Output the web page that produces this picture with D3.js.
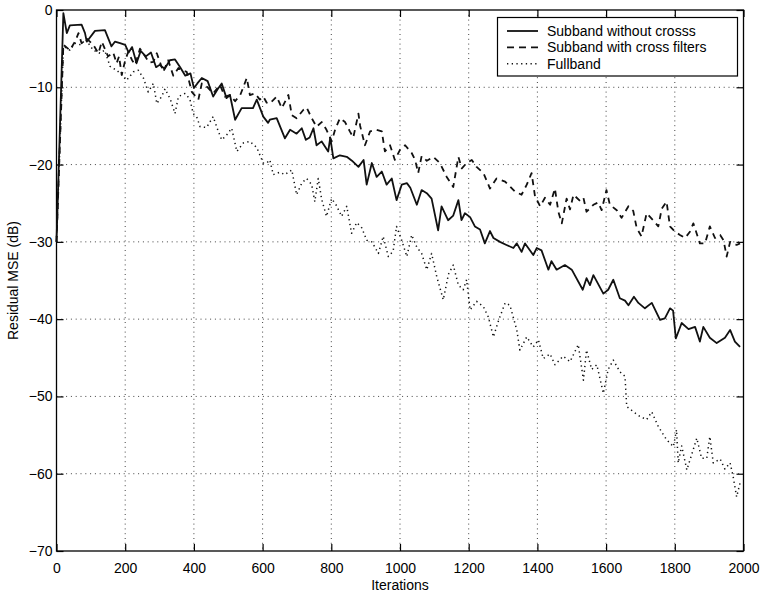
<!DOCTYPE html>
<html>
<head>
<meta charset="utf-8">
<script src="https://cdn.jsdelivr.net/npm/d3@7"></script>
<style>
  body { margin: 0; background: #fff; }
  svg { font-family: "Liberation Sans", Arial, Helvetica, sans-serif; }
  .grid line { stroke: #444; stroke-width: 1; stroke-dasharray: 1,3.8; }
  .tick text { font-size: 14px; fill: #000; }
</style>
</head>
<body>
<svg id="canvas" width="763" height="594"></svg>
<script>

var xTicks = [0, 200, 400, 600, 800, 1000, 1200, 1400, 1600, 1800, 2000];
var yTicks = [0, -10, -20, -30, -40, -50, -60, -70];

var seriesNames = ["Subband without crosss", "Subband with cross filters", "Fullband"];

// Subband without cross filters (solid)
var solidIter = [0, 20, 30, 39, 73, 83, 88, 112, 141, 160, 170, 185, 200, 210, 220, 233, 245, 260, 275, 290,
    300, 315, 330, 345, 360, 375, 390, 400, 410, 423, 440, 456, 470, 481, 495, 505, 520, 539, 572, 583,
    602, 616, 621, 641, 665, 680, 699, 714, 726, 737, 748, 757, 772, 791, 797, 806, 825, 845, 860, 879,
    894, 903, 918, 932, 947, 961, 976, 990, 1005, 1020, 1030, 1049, 1063, 1078, 1092, 1111, 1121, 1140, 1155, 1170,
    1179, 1189, 1204, 1218, 1233, 1247, 1262, 1272, 1291, 1310, 1330, 1340, 1354, 1364, 1388, 1398, 1412, 1432, 1441, 1456,
    1480, 1500, 1532, 1543, 1553, 1563, 1592, 1606, 1621, 1640, 1655, 1665, 1681, 1694, 1713, 1733, 1757, 1771, 1786, 1795,
    1803, 1820, 1840, 1859, 1873, 1883, 1902, 1922, 1946, 1961, 1975, 1990];
var solidMSE = [-30, -0.4, -3, -2, -1.9, -3, -4.1, -2.7, -2.6, -4.7, -4.1, -4.3, -4.5, -5.5, -4.8, -6.9, -5.3, -6, -5.5, -7.4,
    -7.1, -7.6, -6.5, -6.4, -7.4, -8.5, -8.2, -10.1, -9.5, -8.8, -9.2, -11.2, -10.2, -9.5, -11.4, -11, -14.2, -12.7, -12.7, -11.6,
    -13.8, -14.6, -14.2, -14, -16.6, -15.5, -16, -15.3, -16.8, -16.5, -15.3, -17.5, -17, -18.3, -16.5, -19.2, -18.8, -19, -19.5, -20.3,
    -19.4, -22.6, -19.8, -21.6, -20.9, -22.6, -21.8, -24.6, -22.6, -22.4, -23, -25.2, -23.3, -23.7, -24.4, -28.5, -25.4, -27.2, -26.6, -24.6,
    -27.2, -26.3, -26.8, -28, -28.4, -30.2, -28.6, -29.5, -30, -30.4, -30.8, -30.2, -31.3, -30.2, -31.7, -30.8, -31.1, -33.6, -32.5, -33.6,
    -33, -33.6, -36.2, -34.7, -35.6, -34.3, -36.7, -36.2, -34.9, -37.3, -37.6, -38.2, -37.1, -37.9, -38.6, -37.9, -40.1, -39.9, -38.6, -38.9,
    -42.5, -40.5, -41.3, -41, -42.9, -41, -42.4, -43.1, -42.4, -41.4, -42.9, -43.6];

// Subband with cross filters (dashed)
var dashIter = [0, 20, 39, 55, 64, 73, 88, 107, 122, 132, 150, 165, 175, 182, 190, 200, 209, 220, 229, 243,
    255, 270, 282, 292, 311, 325, 340, 355, 365, 379, 394, 413, 423, 440, 456, 476, 490, 505, 520, 535,
    554, 563, 578, 592, 602, 612, 621, 641, 656, 675, 685, 699, 719, 728, 743, 757, 772, 786, 801, 811,
    825, 840, 854, 864, 879, 884, 898, 913, 932, 947, 956, 971, 985, 1000, 1015, 1034, 1044, 1053, 1063, 1078,
    1097, 1116, 1136, 1155, 1170, 1180, 1194, 1209, 1223, 1243, 1262, 1281, 1306, 1335, 1354, 1369, 1383, 1393, 1408, 1422,
    1437, 1451, 1461, 1471, 1485, 1495, 1505, 1524, 1534, 1543, 1563, 1577, 1587, 1601, 1611, 1631, 1645, 1665, 1679, 1689,
    1703, 1718, 1737, 1752, 1762, 1776, 1786, 1801, 1815, 1830, 1844, 1854, 1873, 1888, 1902, 1917, 1932, 1942, 1951, 1961,
    1980, 1990];
var dashMSE = [-30, -4.5, -5.2, -4, -3, -4.3, -3.7, -4.5, -5.6, -4.1, -6, -5.5, -6.9, -6, -8.4, -6.5, -5.4, -6.5, -7.1, -5,
    -5.8, -6.8, -6.7, -5.6, -8, -6.5, -8.5, -7.5, -7.8, -8, -10.6, -11.6, -9.5, -10, -10.8, -9.7, -11.2, -11, -11.8, -11,
    -8.8, -11, -10.8, -11.6, -11.2, -12, -12.1, -11.2, -12.7, -11, -13.6, -14, -12.9, -12.6, -14, -15.1, -14.5, -15.5, -17, -15.5,
    -14, -14.5, -15.7, -16.5, -13.4, -15, -17.5, -15.7, -15.5, -15.7, -18.3, -17.5, -19.4, -18.1, -17.5, -18.5, -19.4, -21.1, -18.9, -19.5,
    -19, -19.8, -21.6, -22.9, -19, -20.5, -19.8, -19.4, -20.3, -21.1, -23.1, -21.8, -22.2, -23.5, -23.9, -22.6, -21.1, -24.1, -25.4, -24.3,
    -25.2, -23.1, -26.1, -27.6, -24.4, -25.8, -23.9, -24.7, -24.3, -26.1, -25.2, -24.9, -25.9, -23.3, -25.2, -25.9, -26.9, -25.4, -26, -28.2,
    -29.3, -26.3, -27.2, -28, -25.7, -24.8, -28, -28.7, -29.1, -29.5, -28.7, -27.6, -30.2, -30.2, -28, -29.5, -29.1, -29.8, -31.9, -30,
    -30.4, -30.2];

// Fullband (dotted)
var fullIter = [0, 20, 39, 54, 70, 85, 107, 127, 140, 156, 175, 190, 204, 224, 238, 253, 267, 282, 292, 306,
    316, 331, 345, 355, 374, 388, 398, 408, 418, 437, 456, 471, 481, 495, 510, 525, 544, 563, 583, 602,
    612, 621, 631, 650, 665, 685, 699, 714, 728, 743, 752, 762, 772, 786, 801, 815, 830, 845, 859, 874,
    889, 903, 918, 937, 951, 966, 980, 990, 1005, 1020, 1034, 1049, 1063, 1078, 1092, 1107, 1126, 1141, 1155, 1170,
    1184, 1194, 1204, 1223, 1243, 1257, 1272, 1286, 1306, 1320, 1340, 1349, 1369, 1388, 1403, 1417, 1437, 1451, 1475, 1495,
    1519, 1534, 1543, 1558, 1573, 1592, 1606, 1621, 1640, 1655, 1660, 1680, 1699, 1718, 1733, 1752, 1776, 1796, 1805, 1810,
    1820, 1835, 1850, 1864, 1878, 1893, 1902, 1912, 1932, 1946, 1961, 1970, 1980, 1990];
var fullMSE = [-30, -4.7, -5.2, -4.3, -4.5, -3.8, -5.2, -5.6, -5.2, -7.3, -7.8, -8.4, -9.1, -8, -7.8, -8.8, -10.6, -9.5, -12.1, -11.2,
    -10.2, -11.5, -13.4, -11.2, -10.8, -11.5, -13.4, -13.8, -15.1, -15.2, -13.8, -15.7, -16.8, -16.2, -15.3, -18.3, -17.2, -17, -17.8, -19.8,
    -19.8, -19.4, -21.3, -21, -21.3, -20.7, -23.9, -22.4, -21.8, -22.6, -24.8, -21.8, -24.5, -26.7, -24.4, -25.3, -26.7, -25.4, -28.9, -27.5,
    -28.2, -29.8, -30, -31.5, -29.3, -31.9, -31.2, -28, -29.8, -31.9, -29.1, -30.7, -31.5, -33.6, -31.5, -34.5, -37.5, -34.2, -33, -35.6,
    -36.2, -34.9, -38.8, -37.7, -38.4, -39.7, -42.3, -40.3, -37.9, -38.2, -41.4, -44, -42.3, -43.6, -42.7, -45.1, -44.5, -45.9, -44.8, -45.5,
    -43.3, -47.9, -44, -46.5, -45.9, -49.6, -46.5, -45.3, -46.8, -47.4, -51.3, -52, -52.6, -53, -52, -53.9, -55.6, -56.5, -54.3, -58.6,
    -56.4, -59.5, -57.4, -55.4, -58, -58, -55.2, -58.6, -58.1, -59.4, -58.6, -60.4, -63, -61.2];

var dashStyles = [null, "6,5", "1.3,3.4"];
var lineWidths = [1.8, 1.8, 1.5];

window.onload = drawChart;

function drawChart(){
    var svg = d3.select("#canvas");
    var left = 56.5, right = 743.5, top = 10, bottom = 551;

    var x = d3.scaleLinear().domain([0, 2000]).range([left, right]);
    var y = d3.scaleLinear().domain([-70, 0]).range([bottom, top]);

    // dotted grid
    var grid = svg.append("g").attr("class", "grid");
    grid.selectAll(".vg").data(xTicks.slice(1, -1)).enter().append("line")
        .attr("x1", function(d){ return x(d); })
        .attr("x2", function(d){ return x(d); })
        .attr("y1", top).attr("y2", bottom);
    grid.selectAll(".hg").data(yTicks.slice(1, -1)).enter().append("line")
        .attr("y1", function(d){ return y(d); })
        .attr("y2", function(d){ return y(d); })
        .attr("x1", left).attr("x2", right);

    // axes with inward ticks on all four sides
    var fmt = function(d){ return d < 0 ? "\u2212" + (-d) : d; };
    var tk = 7;
    svg.append("g").attr("transform", "translate(0," + bottom + ")")
        .call(d3.axisBottom(x).tickValues(xTicks).tickSize(-tk).tickPadding(12).tickFormat(fmt));
    svg.append("g").attr("transform", "translate(0," + top + ")")
        .call(d3.axisTop(x).tickValues(xTicks).tickSize(-tk).tickFormat(""));
    svg.append("g").attr("transform", "translate(" + left + ",0)")
        .call(d3.axisLeft(y).tickValues(yTicks).tickSize(-tk).tickPadding(4).tickFormat(fmt));
    svg.append("g").attr("transform", "translate(" + right + ",0)")
        .call(d3.axisRight(y).tickValues(yTicks).tickSize(-tk).tickFormat(""));
    svg.selectAll(".domain").remove();
    svg.selectAll(".tick line").attr("stroke", "#000").attr("stroke-width", 1.2);

    svg.append("rect")
        .attr("x", left).attr("y", top)
        .attr("width", right - left).attr("height", bottom - top)
        .attr("fill", "none").attr("stroke", "#000").attr("stroke-width", 1.3);

    // series
    var data = [
        {iter: solidIter, mse: solidMSE},
        {iter: dashIter, mse: dashMSE},
        {iter: fullIter, mse: fullMSE}
    ];
    var line = d3.line()
        .x(function(d){ return x(d[0]); })
        .y(function(d){ return y(d[1]); });

    for (var i = 0; i < data.length; i++){
        var pts = d3.zip(data[i].iter, data[i].mse);
        var p = svg.append("path")
            .datum(pts)
            .attr("d", line)
            .attr("fill", "none")
            .attr("stroke", "#111")
            .attr("stroke-width", lineWidths[i])
            .attr("stroke-linejoin", "round");
        if (dashStyles[i]) p.attr("stroke-dasharray", dashStyles[i]);
    }

    // legend
    var lg = svg.append("g");
    lg.append("rect")
        .attr("x", 497.5).attr("y", 17.5)
        .attr("width", 240).attr("height", 58.5)
        .attr("fill", "#fff").attr("stroke", "#000").attr("stroke-width", 1.2);
    for (var j = 0; j < seriesNames.length; j++){
        var ly = 31 + j * 16.4;
        var l = lg.append("line")
            .attr("x1", 507).attr("x2", 538)
            .attr("y1", ly).attr("y2", ly)
            .attr("stroke", "#111")
            .attr("stroke-width", lineWidths[j]);
        if (dashStyles[j]) l.attr("stroke-dasharray", j == 1 ? "7,5" : dashStyles[j]);
        lg.append("text")
            .attr("x", 547).attr("y", ly)
            .attr("dy", "0.36em")
            .attr("font-size", 14)
            .text(seriesNames[j]);
    }

    // axis titles
    svg.append("text")
        .attr("x", (left + right) / 2).attr("y", 590)
        .attr("text-anchor", "middle")
        .attr("font-size", 14)
        .text("Iterations");
    svg.append("text")
        .attr("transform", "translate(18," + ((top + bottom) / 2) + ") rotate(-90)")
        .attr("text-anchor", "middle")
        .attr("font-size", 14)
        .text("Residual MSE (dB)");
}
</script>
</body>
</html>
